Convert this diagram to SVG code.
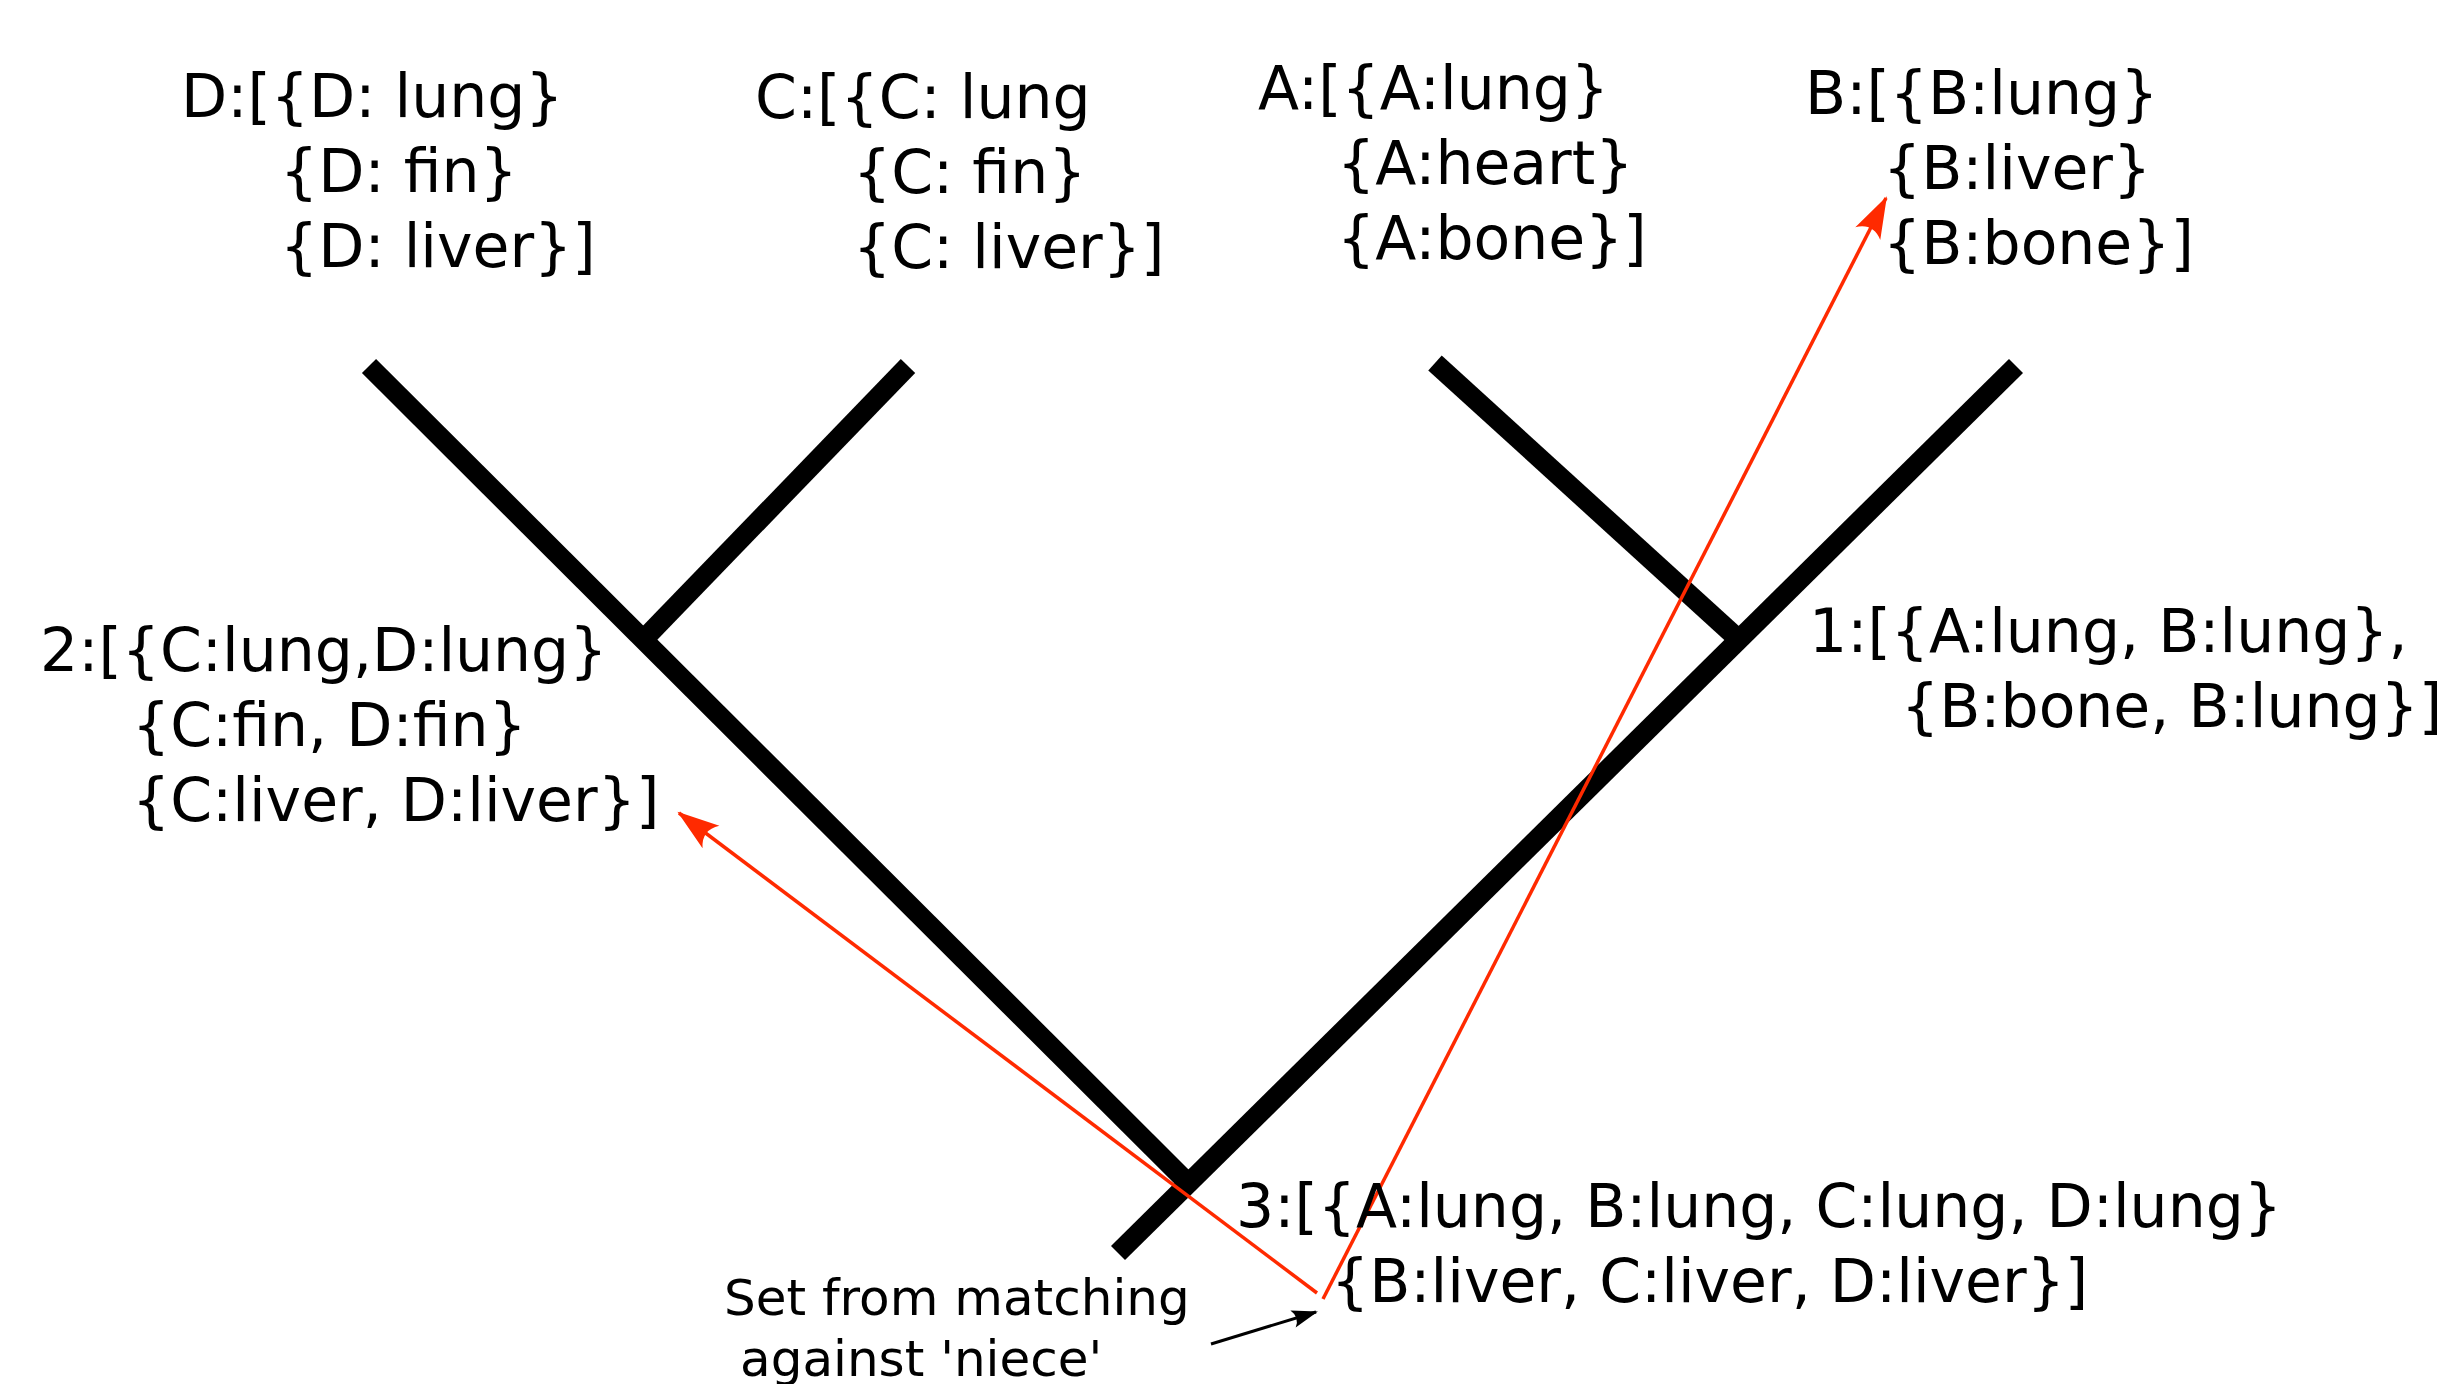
<svg xmlns="http://www.w3.org/2000/svg" width="2441" height="1384" viewBox="0 0 2441 1384">
<style>
.t{font-family:"DejaVu Sans","Liberation Sans",sans-serif;font-size:60px;fill:#000}
.s{font-family:"DejaVu Sans","Liberation Sans",sans-serif;font-size:50px;fill:#000}
.br{stroke:#000;stroke-width:20;stroke-linecap:butt;fill:none}
.red{stroke:#ff2a00;stroke-width:3.5;fill:none}
.blk{stroke:#000;stroke-width:3;fill:none}
</style>
<defs>
<marker id="ar" markerUnits="userSpaceOnUse" markerWidth="60" markerHeight="40" viewBox="-45 -20 50 40" refX="0" refY="0" orient="auto" overflow="visible">
<path d="M2,0 L-40,-14 Q-28,0 -40,14 Z" fill="#ff2a00"/>
</marker>
<marker id="ab" markerUnits="userSpaceOnUse" markerWidth="40" markerHeight="30" viewBox="-30 -15 35 30" refX="0" refY="0" orient="auto" overflow="visible">
<path d="M2,0 L-24,-9 Q-17,0 -24,9 Z" fill="#000"/>
</marker>
</defs>
<rect width="2441" height="1384" fill="#fff"/>
<g id="tree">
<line class="br" x1="369" y1="366" x2="1188" y2="1183"/>
<line class="br" x1="2016" y1="366" x2="1118" y2="1253"/>
<line class="br" x1="908" y1="366" x2="646" y2="637"/>
<line class="br" x1="1435" y1="363" x2="1736" y2="637"/>
</g>
<g id="connectors">
<line class="red" x1="1317" y1="1293" x2="679" y2="813" marker-end="url(#ar)"/>
<line class="red" x1="1323" y1="1299" x2="1886" y2="198" marker-end="url(#ar)"/>
<line class="blk" x1="1211" y1="1344" x2="1316" y2="1312" marker-end="url(#ab)"/>
</g>
<g id="leaf-D">
<text class="t" x="181" y="117">D:[{D: lung}</text>
<text class="t" x="280" y="192">{D: fin}</text>
<text class="t" x="280" y="267">{D: liver}]</text>
</g>
<g id="leaf-C">
<text class="t" x="755" y="118">C:[{C: lung</text>
<text class="t" x="853" y="193">{C: fin}</text>
<text class="t" x="853" y="268">{C: liver}]</text>
</g>
<g id="leaf-A">
<text class="t" x="1258" y="109">A:[{A:lung}</text>
<text class="t" x="1337" y="184">{A:heart}</text>
<text class="t" x="1337" y="259">{A:bone}]</text>
</g>
<g id="leaf-B">
<text class="t" x="1805" y="114">B:[{B:lung}</text>
<text class="t" x="1883" y="189">{B:liver}</text>
<text class="t" x="1883" y="264">{B:bone}]</text>
</g>
<g id="node-2">
<text class="t" x="40" y="671">2:[{C:lung,D:lung}</text>
<text class="t" x="132" y="746">{C:fin, D:fin}</text>
<text class="t" x="132" y="821">{C:liver, D:liver}]</text>
</g>
<g id="node-1">
<text class="t" x="1809" y="652">1:[{A:lung, B:lung},</text>
<text class="t" x="1901" y="727">{B:bone, B:lung}]</text>
</g>
<g id="node-3">
<text class="t" x="1236" y="1227">3:[{A:lung, B:lung, C:lung, D:lung}</text>
<text class="t" x="1331" y="1302">{B:liver, C:liver, D:liver}]</text>
</g>
<g id="note">
<text class="s" x="724" y="1315">Set from matching</text>
<text class="s" x="740" y="1376">against 'niece'</text>
</g>
</svg>
